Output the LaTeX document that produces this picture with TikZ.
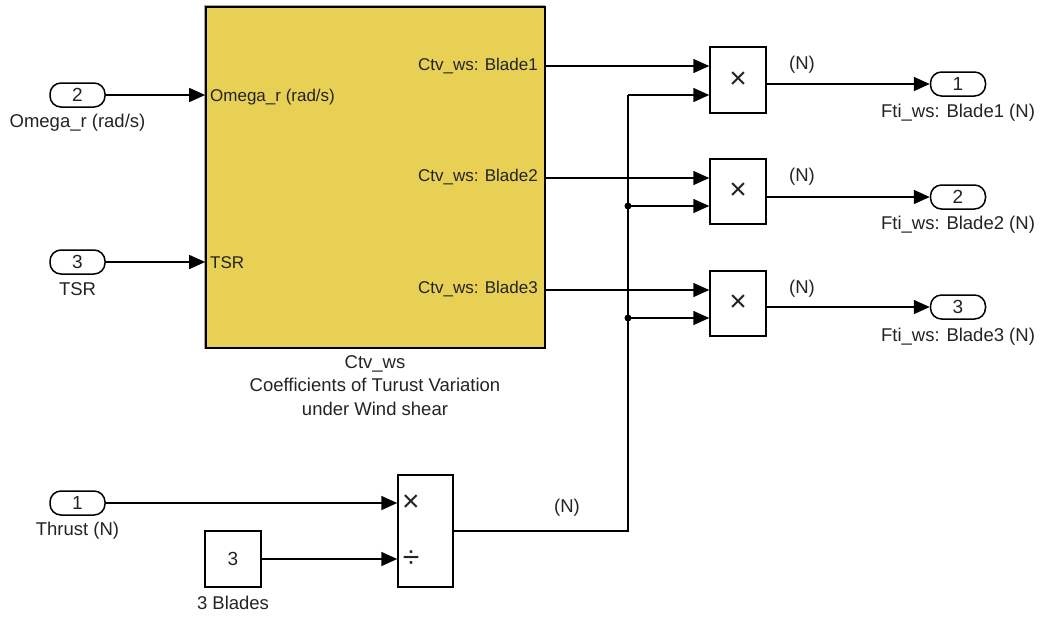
\documentclass[tikz,border=0pt]{standalone}
\usepackage{fontspec}
\setmainfont{Liberation Sans}
\usetikzlibrary{arrows.meta}
\definecolor{blkyellow}{RGB}{232,208,85}
\definecolor{txt}{RGB}{35,35,35}
\tikzset{
  wire/.style={line width=1.6pt, draw=black},
  arr/.style={wire, -{Triangle[length=16pt,width=14pt]}},
  port/.style={draw, line width=1.5pt, rounded corners=11pt, minimum width=55pt, minimum height=24pt, inner sep=0pt, font=\fontsize{19}{20}\selectfont, text=txt},
  box/.style={draw, line width=1.5pt, fill=white, inner sep=0pt, font=\fontsize{19}{20}\selectfont, text=txt},
  sym/.style={inner sep=0pt, font=\fontsize{30}{30}\selectfont, text=txt},
  lbl/.style={inner sep=0pt, font=\fontsize{18.5}{22}\selectfont, text=txt},
  inlbl/.style={inner sep=0pt, font=\fontsize{17}{19}\selectfont, text=txt},
  dot/.style={circle, fill=black, inner sep=0pt, minimum size=7pt},
}
\begin{document}
\begin{tikzpicture}[x=1pt,y=-1pt]
\useasboundingbox (0,0) rectangle (1041,619);
% main subsystem block
\draw[line width=1pt, draw=black!35] (204,349) -- (204,5) -- (545,5);
\node[draw, line width=1.7pt, fill=blkyellow, minimum width=339pt, minimum height=341pt, inner sep=0pt] (blk) at (375.5,177.5) {};
\node[inlbl, anchor=west] (lomega) at (210,97) {Omega\_r (rad/s)};
\node[inlbl, anchor=west] (ltsr) at (210,263) {TSR};
\node[inlbl, anchor=east] (lb1) at (538,66) {Ctv\_ws: Blade1};
\node[inlbl, anchor=east] (lb2) at (538,177) {Ctv\_ws: Blade2};
\node[inlbl, anchor=east] (lb3) at (538,289) {Ctv\_ws: Blade3};
\node[lbl, align=center, anchor=north] (blkname) at (375,355) {Ctv\_ws\\[1.5pt]Coefficients of Turust Variation\\[1.5pt]under Wind shear};
% inports
\node[port] (in2) at (77.5,95) {2};
\node[lbl] (in2l) at (77.5,123) {Omega\_r (rad/s)};
\node[port] (in3) at (77.5,262) {3};
\node[lbl] (in3l) at (77.5,289) {TSR};
\node[port] (in1) at (77.5,503) {1};
\node[lbl] (in1l) at (77.5,531) {Thrust (N)};
% constant
\node[box, minimum width=56pt, minimum height=56pt] (const) at (233,559) {3};
\node[lbl] (constl) at (233,603) {3 Blades};
% divide
\node[box, minimum width=55pt, minimum height=112pt] (div) at (425.5,531) {};
\node[sym] (mulsym) at (411,503) {×};
\node[sym] (divsym) at (411,559) {÷};
\node[lbl] (nlab) at (567,508) {(N)};
% products
\node[box, minimum width=56pt, minimum height=66pt, font=\fontsize{30}{30}\selectfont] (p1) at (738,80) {×};
\node[box, minimum width=56pt, minimum height=65pt, font=\fontsize{30}{30}\selectfont] (p2) at (738,191.5) {×};
\node[box, minimum width=56pt, minimum height=65pt, font=\fontsize{30}{30}\selectfont] (p3) at (738,303.5) {×};
% outports
\node[port] (out1) at (958,84) {1};
\node[lbl] (out1l) at (958,113) {Fti\_ws: Blade1 (N)};
\node[port] (out2) at (958,197) {2};
\node[lbl] (out2l) at (958,225) {Fti\_ws: Blade2 (N)};
\node[port] (out3) at (958,307) {3};
\node[lbl] (out3l) at (958,337) {Fti\_ws: Blade3 (N)};
\node[lbl] (n1) at (802,65) {(N)};
\node[lbl] (n2) at (802,177) {(N)};
\node[lbl] (n3) at (802,289) {(N)};
% port coordinates
\coordinate (b1) at (545,66);
\coordinate (b2) at (545,178);
\coordinate (b3) at (545,290);
\coordinate (divout) at (453,531);
\coordinate (turn) at (628,531);
\coordinate (top) at (628,95);
\node[dot] (j2) at (628,206) {};
\node[dot] (j3) at (628,318) {};
% connectors
\draw[arr] (in2.east) -- (in2.east -| blk.west);
\draw[arr] (in3.east) -- (in3.east -| blk.west);
\draw[arr] (in1.east) -- (in1.east -| div.west);
\draw[arr] (const.east) -- (const.east -| div.west);
\draw[arr] (b1) -- (b1 -| p1.west);
\draw[arr] (b2) -- (b2 -| p2.west);
\draw[arr] (b3) -- (b3 -| p3.west);
\draw[wire] (divout) -- (turn) -- (top);
\draw[arr] (top) -- (top -| p1.west);
\draw[arr] (j2.center) -- (j2.center -| p2.west);
\draw[arr] (j3.center) -- (j3.center -| p3.west);
\draw[arr] (out1.west -| p1.east) -- (out1.west);
\draw[arr] (out2.west -| p2.east) -- (out2.west);
\draw[arr] (out3.west -| p3.east) -- (out3.west);
\end{tikzpicture}
\end{document}
